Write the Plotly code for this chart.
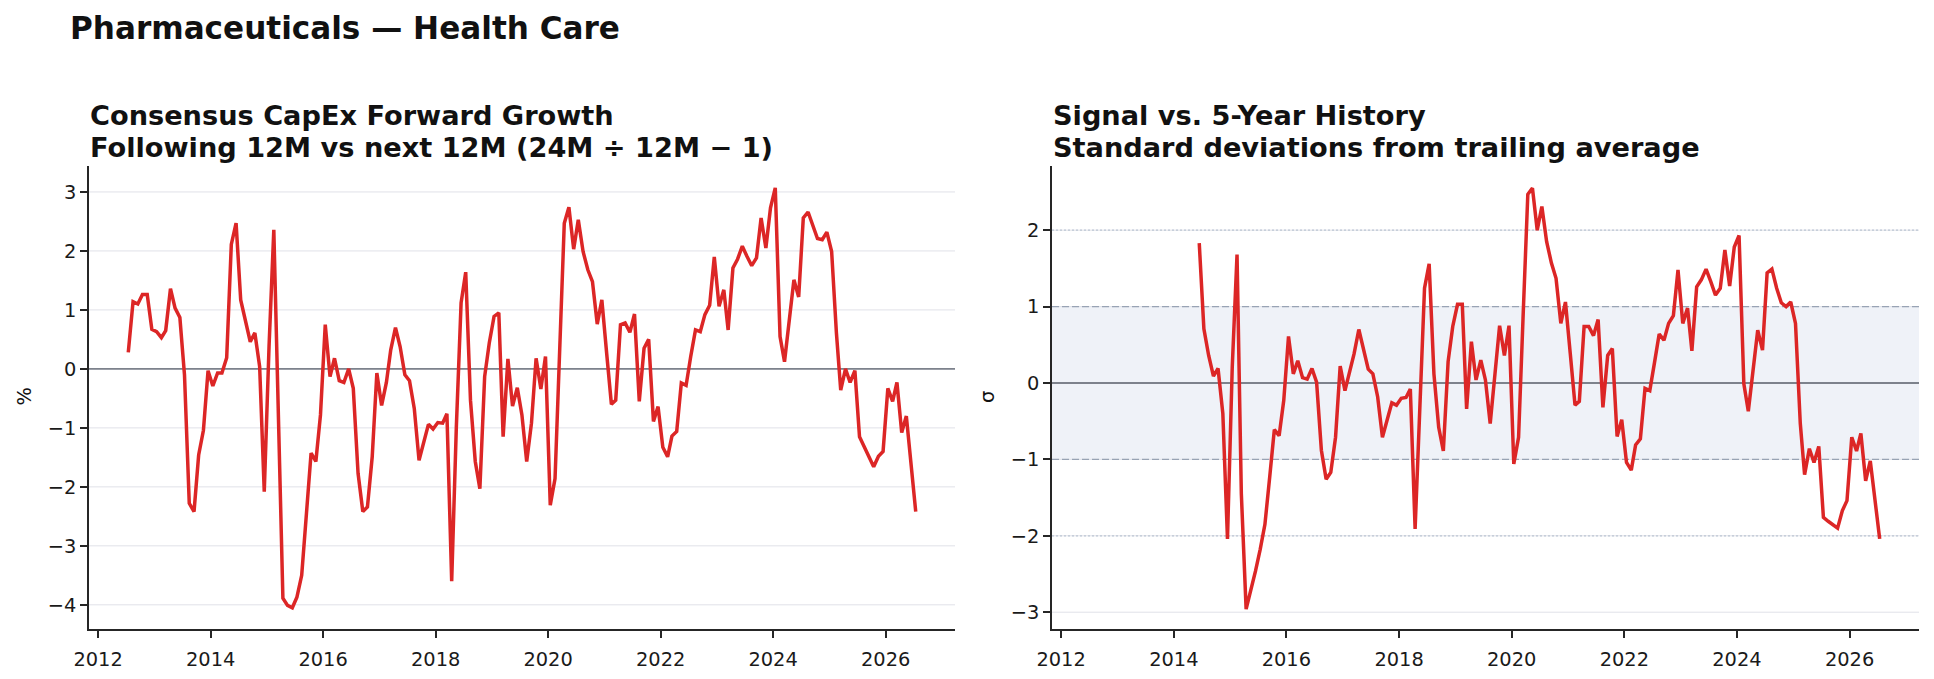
import plotly.graph_objects as go

# ---------------- data ----------------
growth = [
    0.28, 1.14, 1.10, 1.26, 1.26, 0.67, 0.63, 0.53, 0.65, 1.36, 1.03, 0.87,
    -0.10, -2.28, -2.42, -1.46, -1.04, -0.03, -0.29, -0.07, -0.07, 0.19, 2.11, 2.47,
    1.17, 0.78, 0.46, 0.61, 0.04, -2.08, 0.38, 2.36, -0.80, -3.89, -4.01, -4.05,
    -3.87, -3.50, -2.45, -1.43, -1.57, -0.78, 0.75, -0.13, 0.18, -0.20, -0.23, 0.00,
    -0.33, -1.77, -2.42, -2.34, -1.49, -0.07, -0.62, -0.23, 0.32, 0.70, 0.38, -0.10,
    -0.20, -0.67, -1.55, -1.26, -0.94, -1.02, -0.91, -0.92, -0.76, -3.60, -1.00, 1.12,
    1.64, -0.53, -1.57, -2.03, -0.13, 0.44, 0.89, 0.95, -1.15, 0.17, -0.63, -0.32,
    -0.78, -1.57, -0.92, 0.18, -0.34, 0.21, -2.31, -1.86, 0.30, 2.47, 2.74, 2.03,
    2.53, 1.99, 1.68, 1.48, 0.76, 1.17, 0.27, -0.60, -0.53, 0.75, 0.78, 0.62,
    0.93, -0.55, 0.35, 0.50, -0.89, -0.64, -1.33, -1.49, -1.14, -1.06, -0.24, -0.28,
    0.21, 0.66, 0.63, 0.92, 1.08, 1.90, 1.06, 1.34, 0.66, 1.71, 1.86, 2.08,
    1.91, 1.75, 1.88, 2.56, 2.05, 2.73, 3.07, 0.55, 0.12, 0.89, 1.51, 1.22,
    2.56, 2.66, 2.43, 2.21, 2.19, 2.32, 1.99, 0.61, -0.36, 0.00, -0.23, -0.03,
    -1.15, -1.32, -1.49, -1.66, -1.48, -1.40, -0.33, -0.55, -0.23, -1.08, -0.80, -1.60,
    -2.42,
]

zscore = [
    1.83, 0.71, 0.36, 0.09, 0.19, -0.40, -2.04, 0.21, 1.68, -1.45, -2.96, -2.72,
    -2.46, -2.18, -1.85, -1.23, -0.61, -0.69, -0.23, 0.61, 0.12, 0.29, 0.07, 0.05,
    0.19, 0.01, -0.88, -1.26, -1.17, -0.71, 0.22, -0.10, 0.14, 0.38, 0.70, 0.45,
    0.18, 0.12, -0.18, -0.71, -0.48, -0.26, -0.29, -0.20, -0.19, -0.08, -1.91, -0.30,
    1.24, 1.56, 0.12, -0.58, -0.89, 0.28, 0.74, 1.03, 1.03, -0.34, 0.54, 0.04,
    0.30, 0.04, -0.53, 0.12, 0.75, 0.36, 0.75, -1.06, -0.71, 0.85, 2.47, 2.55,
    2.00, 2.31, 1.85, 1.57, 1.37, 0.78, 1.06, 0.39, -0.29, -0.24, 0.74, 0.74,
    0.62, 0.83, -0.32, 0.36, 0.45, -0.70, -0.48, -1.04, -1.14, -0.81, -0.73, -0.07,
    -0.10, 0.26, 0.64, 0.56, 0.78, 0.88, 1.48, 0.78, 0.98, 0.42, 1.26, 1.35,
    1.49, 1.33, 1.15, 1.24, 1.74, 1.27, 1.78, 1.93, -0.01, -0.37, 0.17, 0.69,
    0.43, 1.44, 1.49, 1.24, 1.05, 1.00, 1.06, 0.78, -0.53, -1.20, -0.86, -1.04,
    -0.83, -1.76, -1.81, -1.86, -1.90, -1.67, -1.54, -0.71, -0.89, -0.66, -1.28, -1.02,
    -1.54, -2.04,
]

# monthly observation dates, Jul 2012 .. Jul 2026
dates = [f"{2012 + (6 + k) // 12}-{(6 + k) % 12 + 1:02d}-15" for k in range(len(growth))]
z_dates = dates[len(growth) - len(zscore):]

year_ticks = ["2012", "2014", "2016", "2018", "2020", "2022", "2024", "2026"]
left_yticks = [-4, -3, -2, -1, 0, 1, 2, 3]
right_yticks = [-3, -2, -1, 0, 1, 2]
band_levels = [-1, 1]
outer_levels = [-2, 2]

suptitle = "Pharmaceuticals — Health Care"
left_title = ["Consensus CapEx Forward Growth", "Following 12M vs next 12M (24M ÷ 12M − 1)"]
right_title = ["Signal vs. 5-Year History", "Standard deviations from trailing average"]

# ---------------- styling ----------------
FONT = "DejaVu Sans"
RED = "#dc2626"
SPINE = "#262626"
GRID = "#e0e1e8"
ZERO = "#7d828c"
W, H = 1934, 679
ML, MR, MT, MB = 89, 15, 166, 50
PW = W - ML - MR
PH = H - MT - MB
XR = ["2011-11-03", "2027-03-27"]


def px_x(p):
    return (p - ML) / PW


def px_y(p):
    return (H - MB - p) / PH


d1 = [0, px_x(955)]
d2 = [px_x(1052), 1]

fig = go.Figure()
fig.add_trace(go.Scatter(x=dates, y=growth, mode="lines",
                         line=dict(color=RED, width=3.5), xaxis="x", yaxis="y",
                         hoverinfo="x+y"))
fig.add_trace(go.Scatter(x=z_dates, y=zscore, mode="lines",
                         line=dict(color=RED, width=3.5), xaxis="x2", yaxis="y2",
                         hoverinfo="x+y"))

xcommon = dict(type="date", range=XR, tickvals=[f"{y}-01-01" for y in year_ticks],
               ticktext=year_ticks, ticks="outside", ticklen=7, tickwidth=1.6,
               tickcolor=SPINE, showline=True, linecolor=SPINE, linewidth=1.6,
               showgrid=False, zeroline=False, ticklabelstandoff=5, automargin=False,
               tickfont=dict(family=FONT, size=19.4, color="#1a1a1a"))
ycommon = dict(ticks="outside", ticklen=7, tickwidth=1.6, tickcolor=SPINE,
               showline=True, linecolor=SPINE, linewidth=1.6,
               showgrid=False, zeroline=False, automargin=False,
               tickfont=dict(family=FONT, size=19.4, color="#1a1a1a"))

fig.update_layout(
    width=W, height=H,
    margin=dict(l=ML, r=MR, t=MT, b=MB, pad=0, autoexpand=False),
    paper_bgcolor="white", plot_bgcolor="white",
    showlegend=False,
    font=dict(family=FONT, color="#111"),
    xaxis=dict(domain=d1, anchor="y", **xcommon),
    xaxis2=dict(domain=d2, anchor="y2", **xcommon),
    yaxis=dict(domain=[0, 1], anchor="x", range=[-4.41, 3.44],
               tickvals=left_yticks, **ycommon),
    yaxis2=dict(domain=[0, 1], anchor="x2", range=[-3.22, 2.84],
                tickvals=right_yticks, **ycommon),
)


def hline(xd, yr, y, color, width, dash="solid"):
    return dict(type="line", xref=xd, yref=yr, x0=0, x1=1, y0=y, y1=y,
                line=dict(color=color, width=width, dash=dash), layer="below")


shapes = []
# right ±1 band
shapes.append(dict(type="rect", xref="x2 domain", yref="y2", x0=0, x1=1,
                   y0=band_levels[0], y1=band_levels[1],
                   fillcolor="#eff2f8", line=dict(width=0), layer="below"))
# gridlines
for v in left_yticks:
    shapes.append(hline("x domain", "y", v, GRID, 1))
for v in right_yticks:
    shapes.append(hline("x2 domain", "y2", v, GRID, 1))
# reference lines on right panel
for v in outer_levels:
    shapes.append(hline("x2 domain", "y2", v, "#bcc6d4", 1.2, "2px,2px"))
for v in band_levels:
    shapes.append(hline("x2 domain", "y2", v, "#98a3b4", 1.3, "7px,3px"))
# zero lines
shapes.append(hline("x domain", "y", 0, ZERO, 1.8))
shapes.append(hline("x2 domain", "y2", 0, ZERO, 1.8))
fig.update_layout(shapes=shapes)

ann = []
ann.append(dict(text=f"<b>{suptitle}</b>", xref="paper", yref="paper",
                x=px_x(68), y=px_y(27.8), xanchor="left", yanchor="middle",
                showarrow=False, font=dict(family=FONT, size=31.1, color="#111")))
for (xp, lines) in ((ML - 1, left_title), (1051, right_title)):
    for ln, yp in zip(lines, (115.2, 147.0)):
        ann.append(dict(text=f"<b>{ln}</b>", xref="paper", yref="paper",
                        x=px_x(xp), y=px_y(yp), xanchor="left", yanchor="middle",
                        showarrow=False, font=dict(family=FONT, size=27.2, color="#111")))
ann.append(dict(text="%", xref="paper", yref="paper", x=px_x(23.5), y=px_y(397),
                xanchor="center", yanchor="middle", textangle=-90, showarrow=False,
                font=dict(family=FONT, size=19.4, color="#111")))
ann.append(dict(text="σ", xref="paper", yref="paper", x=px_x(987), y=px_y(397),
                xanchor="center", yanchor="middle", textangle=-90, showarrow=False,
                font=dict(family=FONT, size=19.4, color="#111")))
fig.update_layout(annotations=ann)

fig.write_html("out.html")
